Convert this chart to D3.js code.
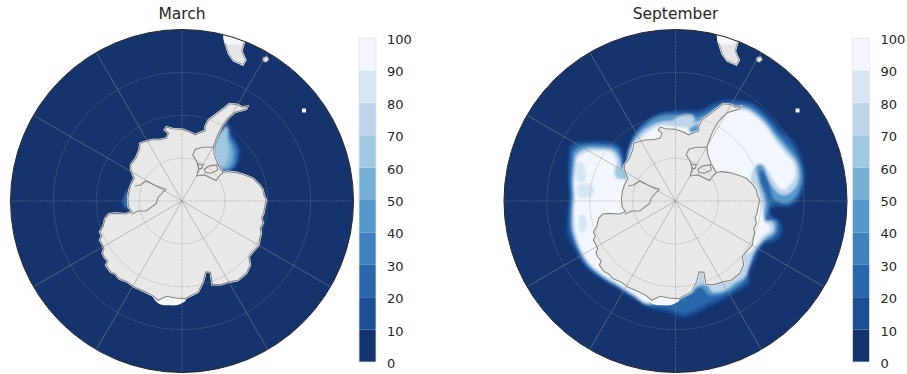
<!DOCTYPE html>
<html>
<head>
<meta charset="utf-8">
<script src="https://d3js.org/d3.v7.min.js"></script>
<style>
    html, body { margin: 0; padding: 0; background: #fff; }
    text { font-family: "DejaVu Sans", sans-serif; fill: #262626; }
</style>
</head>
<body>
<div id="container"></div>
<script>
//数据: map grid units east/north of the pole, 513 units = 40 degrees from the pole
let monthNames = ["March", "September"];
let ringColat = [10, 20, 30, 40];
let meridianBearing = [0, 30, 90, 120, 150, 180, 210, 240, 270, 300, 330];
let barTicks = [0, 10, 20, 30, 40, 50, 60, 70, 80, 90, 100];
let barColors = ["#15346e", "#1c4e96", "#2b67ac", "#3f80bd", "#5599ca", "#76afd6", "#9fc9e1", "#bed5eb", "#d6e5f3", "#f2f7fd"];

let land = [[196,283],[180,281],[167,288],[142,291],[127,278],[110,265],[94,253],[80,243],[70,225],[69,210],[55,205],[39,198],[22,207],[4,213],[-3,215],[-28,216],[-46,221],[-52,213],[-40,203],[-46,188],[-66,183],[-88,183],[-108,178],[-125,173],[-128,153],[-138,128],[-153,108],[-153,93],[-143,68],[-153,48],[-158,33],[-162,8],[-160,-17],[-150,-32],[-168,-39],[-198,-37],[-218,-39],[-230,-52],[-236,-77],[-246,-92],[-240,-105],[-246,-117],[-238,-130],[-233,-142],[-238,-155],[-233,-167],[-222,-180],[-228,-192],[-213,-212],[-200,-218],[-188,-232],[-163,-242],[-143,-257],[-113,-270],[-88,-283],[-71,-297],[-46,-285],[-20,-290],[8,-292],[48,-272],[63,-242],[71,-212],[85,-213],[91,-250],[117,-250],[142,-242],[167,-237],[192,-217],[204,-192],[200,-167],[212,-152],[230,-132],[232,-115],[237,-97],[234,-82],[242,-67],[238,-50],[244,-37],[248,-15],[252,3],[245,18],[242,33],[232,48],[212,68],[187,78],[162,85],[137,88],[122,85],[107,111],[97,138],[94,163],[107,198],[122,228],[137,248],[157,265],[192,275]];
let ronneLine = [[94,161],[62,161],[40,155],[32,138],[44,118],[50,98],[44,75],[67,78],[102,61],[114,78],[122,83]];
let berknerLoop = [[67,95],[82,105],[104,108],[107,93],[87,83],[70,85],[67,95]];
let smallLoop = [[47,111],[62,108],[60,98],[50,96],[47,111]];
let rossLine = [[-142,45],[-127,47],[-107,60],[-77,45],[-49,35],[-72,10],[-77,-7],[-107,-30],[-132,-30],[-152,-40]];
let landFringe = [[-85,-287],[-68,-308],[-38,-312],[-10,-310],[12,-296],[-20,-288]];
let southAmerica = [[126,505],[128,478],[140,440],[155,420],[182,408],[190,422],[178,448],[186,476],[170,505]];
let southAmericaSnow = [[126,505],[130,472],[150,468],[178,470],[190,480],[170,505]];
let islandA = [[243,430],[256,432],[260,422],[250,414],[241,420]];
let islandB = [[359,277],[371,277],[371,265],[359,265]];

let marchIce10 = [[140,233],[147,203],[162,183],[174,153],[172,128],[160,101],[142,88],[122,88],[97,138],[100,173],[122,213],[134,238]];
let marchIce30 = [[138,221],[144,193],[155,175],[165,151],[163,125],[152,99],[122,93],[97,138],[100,173],[122,213]];
let marchIce50 = [[136,215],[140,185],[150,163],[154,138],[146,108],[132,97],[122,93],[97,138],[100,173],[122,213]];
let marchIce70 = [[132,223],[135,183],[140,153],[136,123],[124,105],[107,111],[97,138],[100,173],[122,213]];
let marchRoss30 = [[-157,38],[-176,8],[-176,-12],[-158,-26],[-150,10]];
let marchRossB30 = [[-183,-42],[-163,-39],[-160,-49],[-178,-50]];

let septIce10 = [[148,303],[183,303],[223,297],[258,275],[290,245],[318,213],[358,173],[383,113],[388,63],[373,8],[343,-17],[308,-17],[293,-20],[283,-25],[290,-45],[313,-60],[319,-97],[299,-122],[274,-127],[254,-147],[239,-182],[224,-212],[222,-247],[194,-267],[164,-284],[124,-305],[74,-330],[29,-349],[-26,-332],[-86,-317],[-136,-287],[-176,-262],[-226,-232],[-271,-197],[-301,-147],[-321,-112],[-326,-72],[-322,-30],[-318,15],[-322,65],[-320,125],[-316,163],[-301,174],[-246,179],[-181,174],[-156,148],[-151,98],[-146,150],[-122,205],[-107,223],[-67,253],[-17,268],[33,273],[73,273],[113,293]];
let septIce30 = [[153,295],[183,295],[223,290],[255,268],[285,238],[312,205],[350,165],[375,113],[380,63],[366,12],[340,-10],[308,-9],[298,0],[293,-12],[280,-15],[283,-45],[305,-60],[309,-95],[290,-115],[268,-122],[248,-143],[232,-178],[218,-210],[214,-240],[188,-260],[160,-278],[114,-298],[69,-320],[29,-337],[-24,-322],[-82,-314],[-132,-285],[-172,-259],[-222,-229],[-267,-193],[-297,-143],[-316,-86],[-318,-35],[-315,15],[-318,65],[-315,120],[-309,155],[-274,172],[-227,172],[-177,165],[-160,137],[-155,100],[-149,100],[-141,155],[-119,205],[-89,237],[-47,262],[13,265],[63,262],[101,275],[128,290]];
let septIce50 = [[163,287],[213,284],[250,262],[280,232],[306,198],[342,158],[371,113],[378,63],[363,18],[338,-5],[308,-2],[293,8],[273,73],[253,93],[253,63],[278,-7],[272,-57],[300,-60],[300,-95],[282,-112],[262,-120],[244,-142],[228,-176],[216,-206],[210,-232],[184,-254],[154,-272],[104,-282],[74,-257],[48,-277],[8,-297],[-26,-297],[-78,-310],[-127,-284],[-170,-257],[-220,-227],[-265,-190],[-293,-140],[-312,-86],[-313,-35],[-310,15],[-312,65],[-308,115],[-303,150],[-272,165],[-227,166],[-178,158],[-163,130],[-158,100],[-149,103],[-142,150],[-117,200],[-87,230],[-47,253],[13,257],[63,250],[93,262],[123,280],[148,287]];
let septIce70 = [[163,280],[213,277],[248,255],[276,226],[300,192],[335,150],[363,113],[368,63],[353,33],[328,18],[308,23],[278,63],[263,103],[243,108],[248,63],[268,-7],[262,-57],[290,-62],[294,-92],[272,-108],[254,-128],[236,-152],[220,-195],[208,-226],[178,-246],[150,-266],[110,-272],[93,-250],[40,-265],[-30,-290],[-86,-308],[-124,-283],[-168,-255],[-218,-225],[-263,-186],[-290,-139],[-307,-87],[-308,-35],[-305,15],[-307,55],[-303,110],[-297,138],[-270,156],[-227,158],[-187,152],[-167,125],[-163,98],[-152,65],[-137,150],[-112,195],[-82,220],[-42,237],[13,240],[53,235],[93,245],[128,270],[148,280]];
let septIce90 = [[171,273],[213,270],[245,248],[272,220],[295,185],[328,143],[353,113],[358,73],[338,43],[323,33],[303,48],[278,88],[258,113],[238,103],[225,60],[240,43],[252,10],[262,-30],[268,-65],[282,-75],[282,-90],[262,-104],[244,-128],[226,-150],[100,-200],[0,-250],[-60,-288],[-86,-302],[-121,-280],[-166,-250],[-216,-220],[-261,-180],[-286,-135],[-300,-85],[-304,-35],[-301,15],[-303,55],[-298,105],[-292,130],[-270,145],[-227,150],[-192,145],[-176,113],[-181,95],[-152,65],[-77,65],[-132,140],[-107,185],[-77,210],[-47,225],[23,220],[53,220],[93,232],[133,260],[153,273]];
let septPatch80A = [[-296,113],[-275,110],[-271,60],[-292,58]];
let septPatch80B = [[-291,48],[-246,45],[-250,15],[-290,13]];
let septPatch80C = [[-286,-42],[-271,-42],[-271,-92],[-286,-92]];
let septPatch70 = [[-7,240],[25,258],[53,255],[55,238],[20,232]];
let septPatch40 = [[40,215],[75,230],[78,212],[45,205]];
let septPatchRoss = [[-181,98],[-156,98],[-156,68],[-176,68]];

//画布
let width = 907, height = 374;
let svg = d3.select("#container")
    .append("svg")
    .attr("width", width)
    .attr("height", height);

let defs = svg.append("defs");
defs.append("filter").attr("id", "soft")
    .append("feGaussianBlur").attr("stdDeviation", 1);

let radius = 171.5;
let poleX = [182, 675.5];
let poleY = 201;
let iceLevels = [
    [[marchIce10, 1], [marchRoss30, 2], [marchRossB30, 2], [marchIce30, 3], [marchIce50, 5], [marchIce70, 6]],
    [[septIce10, 1], [septIce30, 2], [septIce50, 4], [septIce70, 7], [septIce90, 9], [septPatch80A, 8], [septPatch80B, 8], [septPatch80C, 8], [septPatch70, 7], [septPatch40, 4], [septPatchRoss, 6]]
];

monthNames.forEach(function (month, i) {
    //比例尺
    let xScale = d3.scaleLinear().domain([-513, 513]).range([poleX[i] - radius, poleX[i] + radius]);
    let yScale = d3.scaleLinear().domain([-513, 513]).range([poleY + radius, poleY - radius]);
    let rScale = d3.scaleLinear().domain([0, 40]).range([0, radius]);

    let smooth = d3.line().x(d => xScale(d[0])).y(d => yScale(d[1])).curve(d3.curveCatmullRomClosed.alpha(0.5));
    let sharp = d3.line().x(d => xScale(d[0])).y(d => yScale(d[1])).curve(d3.curveLinearClosed);
    let open = d3.line().x(d => xScale(d[0])).y(d => yScale(d[1]));

    svg.append("clipPath").attr("id", "disc" + i)
        .append("circle").attr("cx", poleX[i]).attr("cy", poleY).attr("r", radius);

    let g = svg.append("g").attr("clip-path", "url(#disc" + i + ")");

    g.append("circle").attr("cx", poleX[i]).attr("cy", poleY).attr("r", radius).attr("fill", barColors[0]);

    let iceG = g.append("g").attr("filter", "url(#soft)");
    iceLevels[i].forEach(function (lev) {
        iceG.append("path").attr("d", smooth(lev[0])).attr("fill", barColors[lev[1]]);
    });

    //land
    g.append("path").attr("d", smooth(landFringe)).attr("fill", "#f7f8fb");
    [land, southAmerica].forEach(function (poly) {
        g.append("path").attr("d", sharp(poly))
            .attr("fill", "none").attr("stroke", "#fff").attr("stroke-width", 2);
    });
    g.append("path").attr("d", sharp(southAmerica)).attr("fill", "#e6e6e6").attr("stroke", "#8c8c8c").attr("stroke-width", 0.9);
    g.append("path").attr("d", smooth(southAmericaSnow)).attr("fill", "#f4f7fc");
    g.append("path").attr("d", sharp(land)).attr("fill", "#e8e8e8").attr("stroke", "#868686").attr("stroke-width", 1.1);
    [ronneLine, rossLine, berknerLoop, smallLoop].forEach(function (l) {
        g.append("path").attr("d", open(l)).attr("fill", "none").attr("stroke", "#868686").attr("stroke-width", 1.1);
    });
    g.append("path").attr("d", sharp(islandA)).attr("fill", "#dfe6f0").attr("stroke", "#808080").attr("stroke-width", 0.8);
    g.append("path").attr("d", sharp(islandB)).attr("fill", "#f2f2f2");

    //grid
    g.selectAll(".ring").data(ringColat).enter().append("circle")
        .attr("cx", poleX[i]).attr("cy", poleY)
        .attr("r", d => rScale(d))
        .attr("fill", "none").attr("stroke", "#8c8c8c").attr("stroke-opacity", 0.75)
        .attr("stroke-width", 0.7).attr("stroke-dasharray", "1.2,1");
    g.selectAll(".meridian").data(meridianBearing).enter().append("line")
        .attr("x1", poleX[i]).attr("y1", poleY)
        .attr("x2", d => poleX[i] + radius * Math.sin(d * Math.PI / 180))
        .attr("y2", d => poleY - radius * Math.cos(d * Math.PI / 180))
        .attr("stroke", "#8c8c8c").attr("stroke-opacity", 0.75).attr("stroke-width", 0.7)
        .attr("stroke-dasharray", d => d % 90 == 0 ? "1.2,1" : null);

    svg.append("circle").attr("cx", poleX[i]).attr("cy", poleY).attr("r", radius)
        .attr("fill", "none").attr("stroke", "#222").attr("stroke-width", 1);

    svg.append("text").attr("x", poleX[i]).attr("y", 19)
        .attr("text-anchor", "middle").style("font-size", "15.5px").text(month);

    //色条
    let barX = poleX[i] + 177;
    let barScale = d3.scaleLinear().domain([0, 100]).range([362, 38]);
    let bar = svg.append("g");
    bar.selectAll("rect").data(barColors).enter().append("rect")
        .attr("x", barX).attr("width", 17)
        .attr("y", (d, k) => barScale(barTicks[k + 1]))
        .attr("height", (d, k) => barScale(barTicks[k]) - barScale(barTicks[k + 1]))
        .attr("fill", d => d);
    bar.append("rect").attr("x", barX).attr("y", 38).attr("width", 17).attr("height", 324)
        .attr("fill", "none").attr("stroke", "#e3e3e3").attr("stroke-width", 0.8);
    let axis = d3.axisRight(barScale).tickValues(barTicks).tickSize(0).tickPadding(11);
    let ag = svg.append("g").attr("transform", "translate(" + (barX + 17) + ",0)").call(axis);
    ag.select(".domain").remove();
    ag.selectAll("text").style("font-size", "13px").style("font-family", "DejaVu Sans")
        .attr("dy", "0.42em").attr("fill", "#262626");
});
</script>
</body>
</html>
